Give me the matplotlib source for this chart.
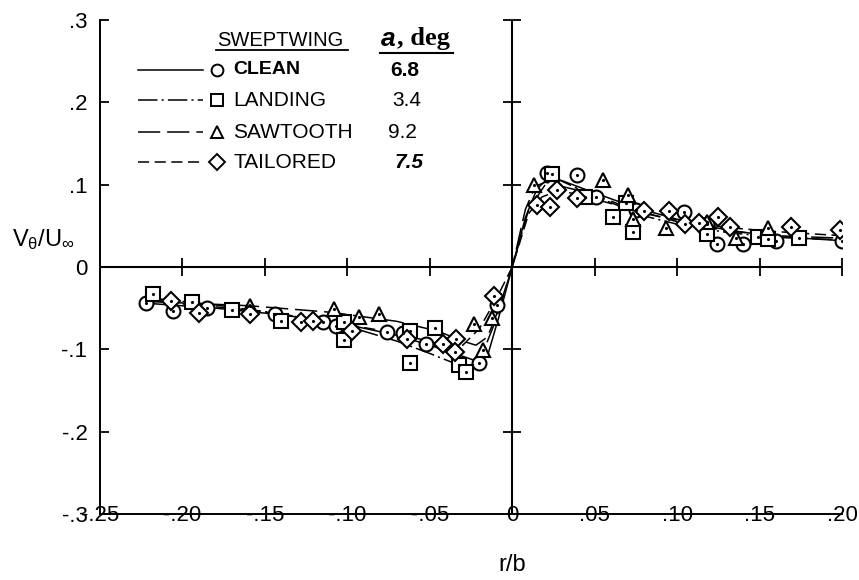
import matplotlib
matplotlib.use("Agg")
import matplotlib.pyplot as plt
from matplotlib.lines import Line2D

plt.rcParams['font.family'] = ['Liberation Sans', 'DejaVu Sans']
plt.rcParams['lines.scale_dashes'] = False
plt.rcParams['mathtext.fontset'] = 'custom'
plt.rcParams['mathtext.rm'] = 'Liberation Sans'
plt.rcParams['mathtext.it'] = 'Liberation Sans'

# measured points (r/b, V_theta/U_inf)
clean_x = [-0.222, -0.206, -0.185, -0.144, -0.115, -0.107, -0.076, -0.066, -0.052, -0.020, -0.009,
           0.021, 0.039, 0.051, 0.075, 0.104, 0.118, 0.124, 0.140, 0.160, 0.200]
clean_y = [-0.044, -0.054, -0.050, -0.057, -0.067, -0.072, -0.079, -0.080, -0.093, -0.117, -0.046,
           0.114, 0.112, 0.085, 0.069, 0.067, 0.052, 0.028, 0.028, 0.032, 0.032]

landing_x = [-0.218, -0.194, -0.170, -0.140, -0.102, -0.102, -0.062, -0.062, -0.047, -0.032, -0.028,
             0.024, 0.044, 0.061, 0.069, 0.073, 0.118, 0.149, 0.155, 0.174]
landing_y = [-0.033, -0.043, -0.052, -0.065, -0.067, -0.089, -0.078, -0.116, -0.074, -0.119, -0.128,
             0.113, 0.085, 0.061, 0.078, 0.043, 0.040, 0.037, 0.034, 0.035]

sawtooth_x = [-0.159, -0.108, -0.093, -0.081, -0.023, -0.018, -0.012,
              0.013, 0.055, 0.070, 0.073, 0.093, 0.118, 0.136, 0.155]
sawtooth_y = [-0.047, -0.051, -0.061, -0.057, -0.069, -0.101, -0.062,
              0.100, 0.106, 0.088, 0.058, 0.047, 0.055, 0.035, 0.047]

tailored_x = [-0.207, -0.190, -0.159, -0.128, -0.121, -0.097, -0.064, -0.042, -0.034, -0.035, -0.011,
              0.015, 0.023, 0.027, 0.039, 0.080, 0.095, 0.105, 0.113, 0.125, 0.132, 0.169, 0.199]
tailored_y = [-0.041, -0.056, -0.057, -0.067, -0.066, -0.078, -0.088, -0.093, -0.088, -0.103, -0.035,
              0.075, 0.073, 0.093, 0.084, 0.068, 0.068, 0.052, 0.054, 0.061, 0.049, 0.049, 0.045]

# faired curves
clean_fx = [-0.222, -0.18, -0.14, -0.10, -0.07, -0.05, -0.035, -0.022, -0.015, -0.008, 0.0,
            0.008, 0.015, 0.022, 0.03, 0.05, 0.075, 0.10, 0.13, 0.16, 0.20]
clean_fy = [-0.044, -0.050, -0.058, -0.070, -0.083, -0.095, -0.105, -0.114, -0.108, -0.060, 0.0,
            0.060, 0.095, 0.108, 0.105, 0.090, 0.072, 0.058, 0.045, 0.037, 0.032]

landing_fx = [-0.218, -0.18, -0.14, -0.10, -0.07, -0.05, -0.035, -0.028, -0.02, -0.01, 0.0,
              0.01, 0.02, 0.026, 0.04, 0.06, 0.08, 0.10, 0.13, 0.16, 0.20]
landing_fy = [-0.038, -0.046, -0.057, -0.072, -0.090, -0.105, -0.117, -0.123, -0.115, -0.065, 0.0,
              0.070, 0.100, 0.108, 0.095, 0.078, 0.062, 0.052, 0.042, 0.036, 0.033]

sawtooth_fx = [-0.22, -0.16, -0.11, -0.07, -0.045, -0.03, -0.022, -0.015, -0.008, 0.0,
               0.008, 0.014, 0.02, 0.03, 0.05, 0.07, 0.10, 0.13, 0.16, 0.20]
sawtooth_fy = [-0.042, -0.047, -0.055, -0.066, -0.078, -0.090, -0.095, -0.085, -0.050, 0.0,
               0.070, 0.098, 0.103, 0.098, 0.088, 0.072, 0.055, 0.044, 0.038, 0.035]

tailored_fx = [-0.21, -0.16, -0.12, -0.08, -0.055, -0.038, -0.03, -0.02, -0.01, 0.0,
               0.01, 0.018, 0.028, 0.04, 0.06, 0.08, 0.10, 0.13, 0.16, 0.20]
tailored_fy = [-0.043, -0.052, -0.063, -0.077, -0.088, -0.097, -0.095, -0.075, -0.040, 0.0,
               0.065, 0.085, 0.093, 0.088, 0.077, 0.065, 0.057, 0.048, 0.043, 0.038]

x_ticks = [-0.25, -0.20, -0.15, -0.10, -0.05, 0.0, 0.05, 0.10, 0.15, 0.20]
x_labels = ['-.25', '-.20', '-.15', '-.10', '-.05', '0', '.05', '.10', '.15', '.20']
y_ticks = [-0.3, -0.2, -0.1, 0.0, 0.1, 0.2, 0.3]
y_labels = ['-.3', '-.2', '-.1', '0', '.1', '.2', '.3']

names = ['CLEAN', 'LANDING', 'SAWTOOTH', 'TAILORED']
alphas = ['6.8', '3.4', '9.2', '7.5']

series = [
    (clean_x, clean_y, clean_fx, clean_fy, 'o', 10.0, '-'),
    (landing_x, landing_y, landing_fx, landing_fy, 's', 9.5, (0, (14, 3, 1.5, 3))),
    (sawtooth_x, sawtooth_y, sawtooth_fx, sawtooth_fy, '^', 10.5, (0, (16, 5))),
    (tailored_x, tailored_y, tailored_fx, tailored_fy, 'D', 9.0, (0, (8, 4))),
]

W, H = 859, 580
fig = plt.figure(figsize=(W / 100, H / 100), dpi=100)
ax = fig.add_axes([100 / W, 1 - 514 / H, 742 / W, 494 / H])
ax.set_xlim(-0.25, 0.20)
ax.set_ylim(-0.3, 0.3)

for sx, sy, fxs, fys, mk, ms, ls in series:
    ax.plot(fxs, fys, color='black', lw=1.1, ls=ls, zorder=2)
    ax.plot(sx, sy, ls='none', marker=mk, ms=ms, mfc='white', mec='black', mew=1.5, zorder=3)
    ax.plot(sx, sy, ls='none', marker='.', ms=2.5, color='black', zorder=4)

# axes frame
for s in ['top', 'right']:
    ax.spines[s].set_visible(False)
for s in ['left', 'bottom']:
    ax.spines[s].set_linewidth(1.4)
ax.axhline(0, color='black', lw=1.5, zorder=1)
ax.axvline(0, color='black', lw=1.5, zorder=1)

ax.set_xticks(x_ticks, x_labels)
ax.set_yticks(y_ticks, y_labels)
ax.tick_params(axis='x', length=0, pad=-6.5, labelsize=16)
ax.tick_params(axis='y', direction='in', length=6.5, width=1.3, pad=9, labelsize=16)

# cross ticks on the zero lines
ax.plot(x_ticks[1:5] + x_ticks[6:], [0] * 8, ls='none', marker='|', ms=13, mew=1.3,
        color='black', clip_on=False)
ax.plot([0] * 5, [-0.2, -0.1, 0.1, 0.2, 0.3], ls='none', marker='_', ms=13, mew=1.3,
        color='black', clip_on=False)

ax.set_xlabel('r/b', fontsize=17, va='center')
ax.xaxis.set_label_coords(0.555, -0.103)
ax.set_ylabel(r'$V_\theta/U_\infty$', fontsize=17, rotation=0, va='center', ha='center')
ax.yaxis.set_label_coords(-0.077, 0.555)


# legend drawn in figure pixels
def fx(px):
    return px / W


def fy(py):
    return 1 - py / H


fig.text(fx(217), fy(40), 'SWEPTWING', fontsize=14.5, va='center')
fig.add_artist(Line2D([fx(216), fx(348)], [fy(50), fy(50)], color='black', lw=1.3))
fig.text(fx(381), fy(39), 'a', fontsize=19, weight='bold', style='italic', va='center')
fig.text(fx(397), fy(39), ', deg', family='Liberation Serif', fontsize=19, weight='bold',
         va='center')
fig.add_artist(Line2D([fx(380), fx(453)], [fy(53), fy(53)], color='black', lw=1.5))

rows = [70, 100, 132, 162]
val_x = [390, 392, 388, 395]
for i, (sx, sy, fxs, fys, mk, ms, ls) in enumerate(series):
    yy = fy(rows[i])
    fig.add_artist(Line2D([fx(138), fx(203)], [yy, yy], color='black', lw=1.1, ls=ls))
    fig.add_artist(Line2D([fx(217)], [yy], marker=mk, ms=ms * 0.85, mfc='white',
                          mec='black', mew=1.4, ls='none'))
    w = 'bold' if i == 0 else 'normal'
    fig.text(fx(233), yy, names[i], fontsize=15 if i else 14, weight=w, va='center')
    vw = 'bold' if i in (0, 3) else 'normal'
    vs = 'italic' if i == 3 else 'normal'
    fig.text(fx(val_x[i]), yy, alphas[i], fontsize=15, weight=vw, style=vs, va='center')

fig.savefig('out.png', dpi=100)
